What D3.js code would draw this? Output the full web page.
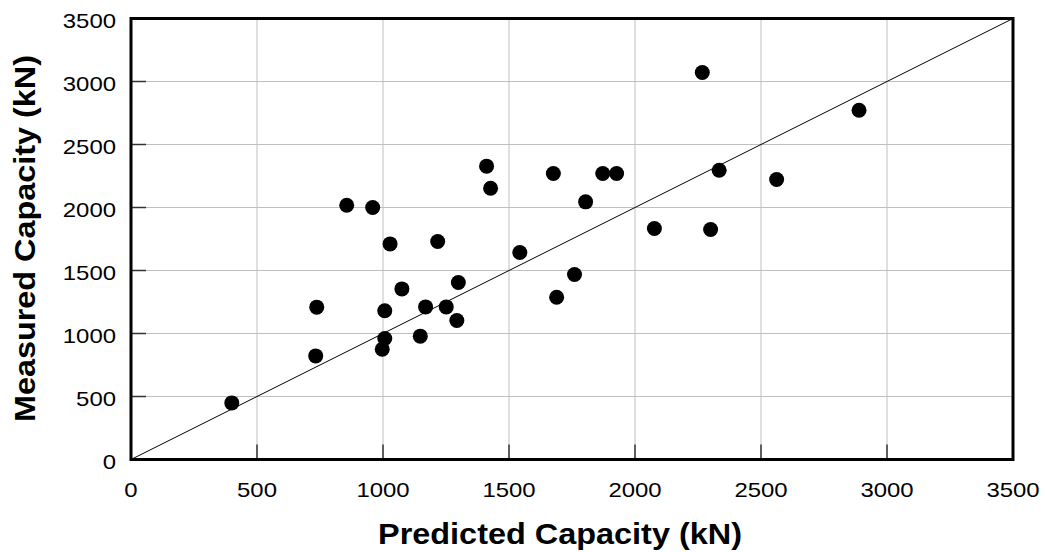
<!DOCTYPE html>
<html>
<head>
<meta charset="utf-8">
<script src="https://cdn.jsdelivr.net/npm/d3@7"></script>
<style>
  html, body { margin: 0; padding: 0; background: #fff; }
  svg { display: block; }
</style>
</head>
<body>
<svg id="chart" width="1045" height="552"></svg>
<script>
// Data (kN)
const predicted = [400, 733, 737, 856, 959, 997, 1007, 1007, 1028, 1075, 1148, 1169, 1217, 1251, 1293, 1299,
                   1411, 1427, 1543, 1676, 1689, 1760, 1804, 1872, 1927, 2077, 2267, 2300, 2334, 2562, 2889];
const measured  = [449, 822, 1209, 2018, 2000, 875, 960, 1180, 1711, 1354, 979, 1211, 1730, 1211, 1103, 1405,
                   2328, 2153, 1643, 2270, 1288, 1468, 2045, 2270, 2270, 1833, 3071, 1825, 2296, 2222, 2772];
const xTicks = [0, 500, 1000, 1500, 2000, 2500, 3000, 3500];
const yTicks = [0, 500, 1000, 1500, 2000, 2500, 3000, 3500];
const xTitle = "Predicted Capacity (kN)";
const yTitle = "Measured Capacity (kN)";

(function () {
const svg = d3.select("#chart");
const L = 131, R = 1013, T = 18.5, B = 459.5;

const x = d3.scaleLinear().domain([0, 3500]).range([L, R]);
const y = d3.scaleLinear().domain([0, 3500]).range([B, T]);

// Gridlines
svg.append("g").selectAll("line").data(xTicks.slice(1, -1)).join("line")
  .attr("x1", d => x(d)).attr("x2", d => x(d))
  .attr("y1", T).attr("y2", B)
  .attr("stroke", "#c0c0c0").attr("stroke-width", 1);
svg.append("g").selectAll("line").data(yTicks.slice(1, -1)).join("line")
  .attr("y1", d => y(d)).attr("y2", d => y(d))
  .attr("x1", L).attr("x2", R)
  .attr("stroke", "#c0c0c0").attr("stroke-width", 1);

// Inner tick marks
svg.append("g").selectAll("line").data(xTicks).join("line")
  .attr("x1", d => x(d)).attr("x2", d => x(d))
  .attr("y1", B).attr("y2", B - 15)
  .attr("stroke", "#333").attr("stroke-width", 1.5);
svg.append("g").selectAll("line").data(yTicks).join("line")
  .attr("y1", d => y(d)).attr("y2", d => y(d))
  .attr("x1", L).attr("x2", L + 15)
  .attr("stroke", "#333").attr("stroke-width", 1.5);

// 1:1 line
svg.append("line")
  .attr("x1", x(0)).attr("y1", y(0))
  .attr("x2", x(3500)).attr("y2", y(3500))
  .attr("stroke", "#000").attr("stroke-width", 1);

// Points
svg.append("g").selectAll("circle").data(predicted.map((p, i) => [p, measured[i]])).join("circle")
  .attr("cx", d => x(d[0])).attr("cy", d => y(d[1]))
  .attr("r", 7.5).attr("fill", "#000");

// Frame
svg.append("rect")
  .attr("x", L).attr("y", T)
  .attr("width", R - L).attr("height", B - T)
  .attr("fill", "none").attr("stroke", "#000").attr("stroke-width", 3);

// Tick labels (reference glyphs are slightly wider than Liberation Sans)
const font = "'Liberation Sans', Arial, sans-serif";
svg.append("g").selectAll("text").data(xTicks).join("text")
  .attr("x", d => x(d)).attr("y", 497)
  .attr("text-anchor", "middle")
  .attr("font-family", font).attr("font-size", 21)
  .attr("textLength", d => String(d).length * 13.3)
  .attr("lengthAdjust", "spacingAndGlyphs")
  .text(d => d);
svg.append("g").selectAll("text").data(yTicks).join("text")
  .attr("x", 116).attr("y", d => y(d) + 9)
  .attr("text-anchor", "end")
  .attr("font-family", font).attr("font-size", 21)
  .attr("textLength", d => String(d).length * 13.3)
  .attr("lengthAdjust", "spacingAndGlyphs")
  .text(d => d);

// Axis titles
svg.append("text")
  .attr("x", 560).attr("y", 544)
  .attr("text-anchor", "middle")
  .attr("font-family", font).attr("font-size", 30).attr("font-weight", "bold")
  .attr("textLength", 364).attr("lengthAdjust", "spacingAndGlyphs")
  .text(xTitle);
svg.append("text")
  .attr("transform", `translate(35, 238.5) rotate(-90)`)
  .attr("text-anchor", "middle")
  .attr("font-family", font).attr("font-size", 30).attr("font-weight", "bold")
  .attr("textLength", 367).attr("lengthAdjust", "spacingAndGlyphs")
  .text(yTitle);
})();
</script>
</body>
</html>
